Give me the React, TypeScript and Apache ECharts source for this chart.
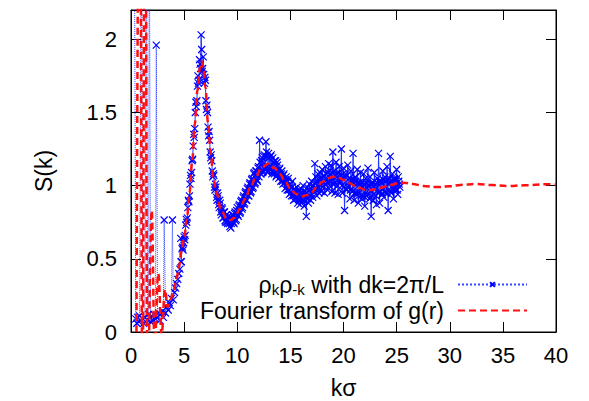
import React, { useEffect, useRef } from 'react';
import * as echarts from 'echarts';

// Fourier transform of g(r): [k, S(k)]
const redK = [0.5, 0.82, 1.08, 1.32, 1.55, 1.95, 2.22, 2.57, 2.88, 3.2, 3.45, 3.7, 4.0, 4.3, 4.5, 4.75, 5.0, 5.25, 5.5, 5.75, 6.0, 6.25, 6.5, 6.65, 6.8, 7.0, 7.25, 7.5, 7.75, 8.0, 8.5, 9.0, 9.35, 9.75, 10.25, 10.75, 11.25, 11.75, 12.25, 12.9, 13.5, 14.0, 14.5, 15.0, 15.5, 16.0, 16.5, 17.0, 17.5, 18.0, 18.5, 19.0, 19.5, 20.0, 20.5, 21.0, 21.5, 22.0, 22.5, 23.0, 23.5, 24.0, 24.5, 25.0, 25.7, 26.5, 27.5, 28.8, 30.0, 31.0, 32.5, 34.0, 35.4, 37.0, 39.1, 40.0];
const redS = [-0.3, 4.0, -0.5, 4.0, -0.4, 0.83, -0.1, 0.4, -0.02, 0.29, 0.17, 0.22, 0.28, 0.37, 0.44, 0.55, 0.64, 0.77, 0.95, 1.16, 1.42, 1.65, 1.81, 1.85, 1.81, 1.67, 1.43, 1.22, 1.06, 0.96, 0.83, 0.775, 0.765, 0.78, 0.84, 0.91, 0.99, 1.06, 1.12, 1.15, 1.12, 1.08, 1.03, 0.98, 0.945, 0.925, 0.935, 0.955, 0.99, 1.025, 1.05, 1.06, 1.055, 1.04, 1.02, 1.0, 0.985, 0.972, 0.97, 0.975, 0.985, 0.995, 1.005, 1.015, 1.02, 1.012, 0.998, 0.99, 0.995, 1.005, 1.011, 1.004, 0.997, 1.002, 1.009, 1.008];

// rho_k rho_-k, sparse low-k points
const blueLowK = [0.31, 0.45, 0.55, 0.62, 0.75, 0.8, 0.98, 1.1, 1.2, 1.3, 1.45, 1.55, 1.65, 1.72, 1.85, 1.95, 2.05, 2.15, 2.3, 2.38, 2.5, 2.6, 2.7, 2.8, 2.95, 3.05, 3.12, 3.25, 3.35, 3.5, 3.6, 3.7, 3.8, 3.9, 3.98, 4.1, 4.2, 4.3, 4.4, 4.5, 4.6, 4.68, 4.72];
const blueLowS = [3.0, 0.09, 0.06, 0.1, 0.07, 0.11, 3.0, 0.09, 0.06, 0.1, 3.0, 0.08, 0.12, 3.0, 0.07, 0.11, 0.08, 0.12, 0.09, 1.96, 0.1, 0.13, 0.08, 0.12, 0.14, 0.1, 0.765, 0.13, 0.17, 0.15, 0.2, 0.18, 0.23, 0.765, 0.22, 0.27, 0.3, 0.33, 0.36, 0.4, 0.43, 0.64, 0.48];

// rho_k rho_-k, dense part A: k from 4.8 in steps of 0.1
const blueAStart = 4.8;
const blueStep = 0.1;
const blueAS = [
  0.57, 0.56, 0.65, 0.66, 0.77, 0.78, 0.9, 0.93, 1.07, 1.09,
  1.18, 1.35, 1.39, 1.57, 1.58, 1.75, 1.72, 1.83, 2.03, 1.78,
  1.88, 1.7, 1.72, 1.52, 1.5, 1.34, 1.31, 1.19, 1.17, 1.06,
  1.07, 0.97, 0.99, 0.9, 0.93, 0.85, 0.88, 0.8, 0.84, 0.78,
  0.82, 0.75, 0.8, 0.74, 0.79, 0.72, 0.71, 0.78, 0.8, 0.74,
  0.82, 0.77, 0.85, 0.79, 0.87, 0.82, 0.9, 0.85, 0.93, 0.88,
  0.96, 0.9, 0.99, 0.93, 1.02, 0.96, 1.05, 0.99, 1.09, 1.02,
  1.1, 1.03, 1.13, 1.31, 1.08, 1.17, 1.09, 1.2, 1.11, 1.3,
  1.2, 1.1, 1.19, 1.13, 1.21, 1.1, 1.16, 1.08, 1.17, 1.07,
  1.14, 1.05, 1.12, 1.03, 1.1, 1.01, 1.08, 0.98, 1.06, 0.97,
  1.05, 0.94, 1.01, 0.93, 1.03, 0.9, 0.98, 0.91, 0.99, 0.88,
  0.97, 0.87, 0.98, 0.89, 1.0, 0.86, 0.94, 0.79, 0.99, 0.88,
  1.01, 0.9, 1.03, 0.92, 0.98, 1.15, 1.06, 0.93, 1.08, 0.95,
  1.09, 0.96, 1.11, 1.02, 0.95, 1.13, 1.04, 0.97, 1.15, 1.0,
  1.14, 0.96, 1.23, 1.01, 0.95, 1.16, 1.06, 0.94, 1.13, 1.03,
  1.25, 0.95, 1.12, 0.83, 1.08, 0.97, 1.14, 1.0, 0.91, 1.1,
  1.03, 1.22, 0.9, 1.06, 0.95, 1.11, 0.88, 1.02, 1.09, 0.91,
  0.99, 1.08, 0.86, 1.05, 0.93, 1.12, 0.97, 1.06, 0.79, 1.01,
  0.9, 1.09, 0.98, 0.87, 1.05, 1.22, 0.88, 1.03, 0.94, 1.1,
  0.92, 1.06, 0.99, 1.13, 0.83, 1.02, 1.2, 0.95, 1.08, 0.91,
  1.05, 0.97, 1.11, 0.94, 1.03, 0.99,
];

// rho_k rho_-k, dense part B: k from 4.85 in steps of 0.1
const blueBStart = 4.85;
const blueBS = [
  0.58, 0.61, 0.63, 0.73, 0.75, 0.85, 0.89, 1.01, 1.05, 1.17,
  1.27, 1.33, 1.5, 1.54, 1.68, 1.7, 1.86, 1.8, 1.93, 1.8,
  1.76, 1.74, 1.58, 1.55, 1.4, 1.37, 1.23, 1.21, 1.1, 1.08,
  0.99, 1.01, 0.92, 0.95, 0.87, 0.9, 0.82, 0.85, 0.78, 0.82,
  0.76, 0.8, 0.75, 0.79, 0.74, 0.78, 0.74, 0.8, 0.75, 0.81,
  0.76, 0.83, 0.8, 0.86, 0.81, 0.89, 0.84, 0.92, 0.87, 0.95,
  0.9, 0.98, 0.93, 1.01, 0.95, 1.04, 0.98, 1.08, 1.01, 1.1,
  1.04, 1.12, 1.06, 1.16, 1.08, 1.19, 1.1, 1.21, 1.12, 1.23,
  1.09, 1.22, 1.11, 1.2, 1.08, 1.19, 1.09, 1.17, 1.06, 1.16,
  1.08, 1.11, 1.06, 1.08, 1.03, 1.07, 1.02, 1.04, 0.99, 1.03,
  0.97, 1.01, 0.95, 0.99, 0.93, 0.97, 0.96, 0.92, 0.95, 0.91,
  0.9, 0.95, 0.91, 0.94, 0.9, 0.96, 0.92, 0.95, 0.91, 0.97,
  0.93, 0.98, 0.94, 1.0, 0.96, 1.02, 0.98, 1.03, 0.99, 1.05,
  1.0, 1.05, 0.99, 1.07, 1.01, 1.08, 1.02, 1.09, 1.03, 1.08,
  1.03, 1.09, 1.01, 1.1, 1.02, 1.08, 1.0, 1.09, 1.02, 1.07,
  1.0, 1.08, 0.99, 1.06, 0.98, 1.07, 0.99, 1.05, 0.97, 1.04,
  0.96, 1.04, 0.95, 1.03, 0.94, 1.02, 0.95, 1.01, 0.93, 1.02,
  0.93, 1.01, 0.92, 1.02, 0.94, 1.0, 0.91, 1.01, 0.93, 1.02,
  0.94, 1.01, 0.93, 1.02, 0.95, 1.03, 0.96, 1.02, 0.94, 1.04,
  0.96, 1.03, 0.95, 1.04, 0.97, 1.05, 0.96, 1.03, 0.98, 1.04,
  0.99, 1.04, 0.97, 1.06, 1.01,
];

const FONT = "'Liberation Sans', Arial, sans-serif";
const legendNames: Record<string, string> = {
  rho: '{a|ρ}{s|k}{a|ρ}{s|-k}{a| with dk=2π/L}',
  ft: '{a|Fourier transform of g(r)}',
};

export default function App() {
  const ref = useRef<HTMLDivElement>(null);
  useEffect(() => {
    const chart = echarts.init(ref.current!, undefined, { renderer: 'svg' });
    const low = blueLowK.map((k, i) => [k, blueLowS[i]]);
    const dense = [
      ...blueAS.map((s, i) => [+(blueAStart + i * blueStep).toFixed(2), s]),
      ...blueBS.map((s, i) => [+(blueBStart + i * blueStep).toFixed(2), s]),
    ].sort((p, q) => p[0] - q[0]);
    const redData = redK.map((k, i) => [k, redS[i]]);
    const tick = { show: true, inside: true, length: 10, lineStyle: { color: '#000', width: 1 } };
    const line = { show: true, onZero: false, lineStyle: { color: '#000', width: 1 } };
    const labelStyle = { color: '#000', fontSize: 22, fontFamily: FONT };
    const rich = {
      a: { fontSize: 23, fontFamily: FONT, color: '#000', lineHeight: 24, verticalAlign: 'middle' },
      s: { fontSize: 15, fontFamily: FONT, color: '#000', lineHeight: 14, verticalAlign: 'bottom' },
    };
    const legendBase = {
      orient: 'vertical',
      align: 'right',
      right: 61,
      padding: 0,
      itemWidth: 69,
      itemHeight: 6,
      selectedMode: false,
      formatter: (n: string) => legendNames[n],
      textStyle: { rich, padding: [0, 9, 0, 0] },
    };
    const blueMarker = {
      symbol: 'path://M0,0L10,10M10,0L0,10', symbolSize: 7,
      itemStyle: { color: 'rgba(0,0,255,0)', borderColor: '#0000ff', borderWidth: 1.2 },
    };
    chart.setOption({
      animation: false,
      grid: {
        left: 131, right: 33, top: 10, bottom: 69, show: true, borderColor: '#000', borderWidth: 1,
        containLabel: false, outerBoundsMode: 'none',
      },
      legend: [
        { ...legendBase, data: ['rho'], top: 273 },
        { ...legendBase, data: ['ft'], top: 299, itemStyle: { opacity: 0 } },
      ],
      xAxis: [
        {
          type: 'value', position: 'bottom', min: 0, max: 40, interval: 5,
          axisLine: line, axisTick: tick, splitLine: { show: false },
          axisLabel: { ...labelStyle, margin: 12 },
          name: 'kσ', nameLocation: 'middle', nameGap: 46,
          nameTextStyle: { color: '#000', fontSize: 23, lineHeight: 20, fontFamily: FONT },
        },
        {
          type: 'value', position: 'top', min: 0, max: 40, interval: 5,
          axisLine: line, axisTick: tick, splitLine: { show: false }, axisLabel: { show: false },
        },
      ],
      yAxis: [
        {
          type: 'value', position: 'left', min: 0, max: 2.2, interval: 0.5,
          axisLine: line, axisTick: tick, splitLine: { show: false },
          axisLabel: { ...labelStyle, margin: 14, showMaxLabel: false },
          name: 'S(k)', nameLocation: 'middle', nameGap: 76,
          nameTextStyle: { color: '#000', fontSize: 23, fontFamily: FONT },
        },
        {
          type: 'value', position: 'right', min: 0, max: 2.2, interval: 0.5,
          axisLine: line, axisTick: tick, splitLine: { show: false }, axisLabel: { show: false },
        },
      ],
      series: [
        {
          name: 'rho', type: 'line', data: low, z: 2, ...blueMarker,
          lineStyle: { color: '#3344ff', width: 1, type: 'dotted' },
        },
        {
          name: 'rho', type: 'line', data: [low[low.length - 1], ...dense], z: 2, ...blueMarker,
          lineStyle: { color: '#2233ff', width: 1, type: 'solid' },
        },
        {
          name: 'ft', type: 'line', data: redData, z: 3,
          symbol: 'none', smooth: 0.4, smoothMonotone: 'x',
          lineStyle: { color: '#ff1111', width: 2.5, type: [7, 4] },
          itemStyle: { color: '#ff1111' },
        },
      ],
    });
    return () => chart.dispose();
  }, []);
  return <div ref={ref} style={{ position: 'absolute', left: 0, top: 0, width: 589, height: 401 }} />;
}
